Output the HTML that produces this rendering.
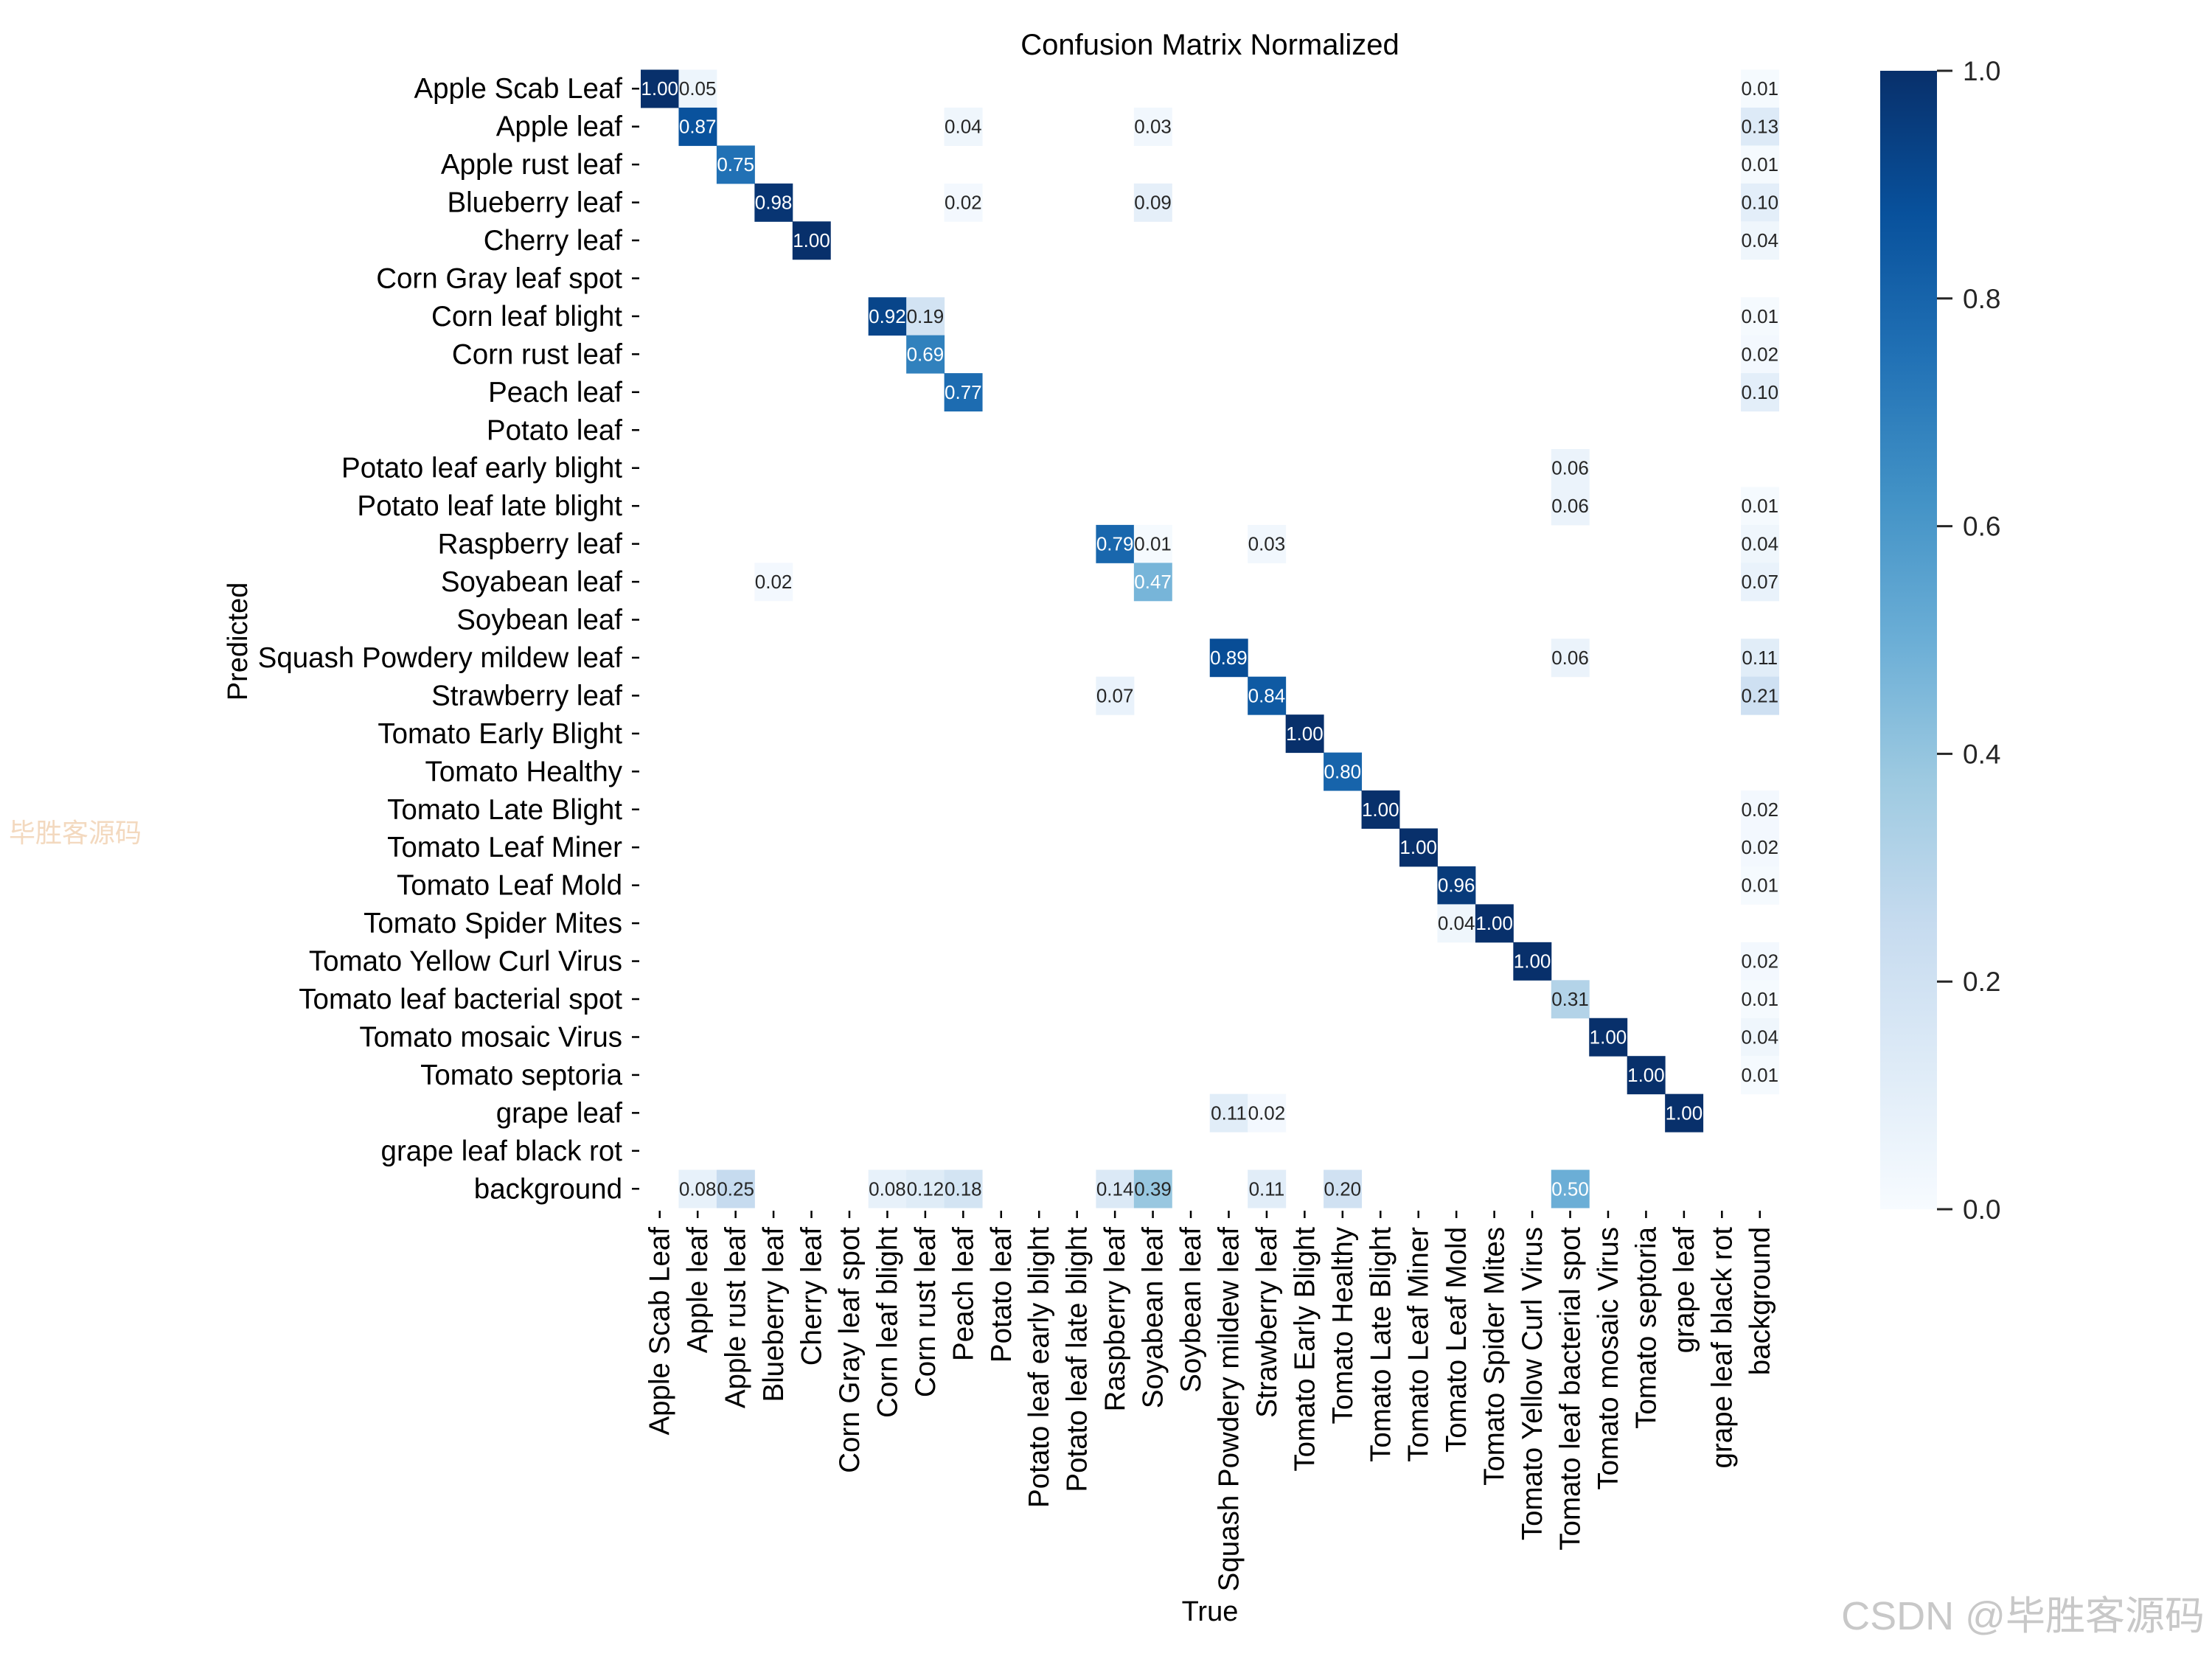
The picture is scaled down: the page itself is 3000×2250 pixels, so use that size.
<!DOCTYPE html>
<html><head><meta charset="utf-8"><style>
html,body{margin:0;padding:0;background:#fff;}
svg{display:block;font-family:"Liberation Sans","Noto Sans CJK SC",sans-serif;}
</style></head><body>
<svg id="chart" width="3000" height="2250" viewBox="0 0 3000 2250" xmlns="http://www.w3.org/2000/svg">
<defs>
<linearGradient id="blues" x1="0" y1="1" x2="0" y2="0">
<stop offset="0" stop-color="#f7fbff"/><stop offset="0.125" stop-color="#deebf7"/><stop offset="0.25" stop-color="#c6dbef"/><stop offset="0.375" stop-color="#9ecae1"/><stop offset="0.5" stop-color="#6baed6"/><stop offset="0.625" stop-color="#4292c6"/><stop offset="0.75" stop-color="#2171b5"/><stop offset="0.875" stop-color="#08519c"/><stop offset="1" stop-color="#08306b"/>
</linearGradient>
</defs>
<text x="1641" y="74" font-size="40" text-anchor="middle" fill="#000">Confusion Matrix Normalized</text>
<g id="cells"></g>
<g id="yticks"></g>
<g id="xticks"></g>
<text x="1641" y="2198" font-size="38" text-anchor="middle" fill="#000">True</text>
<text transform="translate(335,870) rotate(-90)" font-size="38" text-anchor="middle" fill="#000">Predicted</text>
<rect x="2550" y="96" width="77" height="1544" fill="url(#blues)"/>
<g id="cbticks"></g>
<text x="12" y="1142" font-size="36" fill="#f3d9bf">毕胜客源码</text>
<text x="2990" y="2210" font-size="54" text-anchor="end" fill="#c8c8c8">CSDN @毕胜客源码</text>
</svg>
<script>
const classes = ["Apple Scab Leaf","Apple leaf","Apple rust leaf","Blueberry leaf","Cherry leaf","Corn Gray leaf spot","Corn leaf blight","Corn rust leaf","Peach leaf","Potato leaf","Potato leaf early blight","Potato leaf late blight","Raspberry leaf","Soyabean leaf","Soybean leaf","Squash Powdery mildew leaf","Strawberry leaf","Tomato Early Blight","Tomato Healthy","Tomato Late Blight","Tomato Leaf Miner","Tomato Leaf Mold","Tomato Spider Mites","Tomato Yellow Curl Virus","Tomato leaf bacterial spot","Tomato mosaic Virus","Tomato septoria","grape leaf","grape leaf black rot","background"];
const cellRows = [0,0,0, 1,1,1,1, 2,2, 3,3,3,3, 4,4, 6,6,6, 7,7, 8,8, 10, 11,11, 12,12,12,12, 13,13,13, 15,15,15, 16,16,16, 17, 18, 19,19, 20,20, 21,21, 22,22, 23,23, 24,24, 25,25, 26,26, 27,27,27, 29,29,29,29,29,29,29,29,29,29];
const cellCols = [0,1,29, 1,8,13,29, 2,29, 3,8,13,29, 4,29, 6,7,29, 7,29, 8,29, 24, 24,29, 12,13,16,29, 3,13,29, 15,24,29, 12,16,29, 17, 18, 19,29, 20,29, 21,29, 21,22, 23,29, 24,29, 25,29, 26,29, 15,16,27, 1,2,6,7,8,12,13,16,18,24];
const cellValues = [1.00,0.05,0.01, 0.87,0.04,0.03,0.13, 0.75,0.01, 0.98,0.02,0.09,0.10, 1.00,0.04, 0.92,0.19,0.01, 0.69,0.02, 0.77,0.10, 0.06, 0.06,0.01, 0.79,0.01,0.03,0.04, 0.02,0.47,0.07, 0.89,0.06,0.11, 0.07,0.84,0.21, 1.00, 0.80, 1.00,0.02, 1.00,0.02, 0.96,0.01, 0.04,1.00, 1.00,0.02, 0.31,0.01, 1.00,0.04, 1.00,0.01, 0.11,0.02,1.00, 0.08,0.25,0.08,0.12,0.18,0.14,0.39,0.11,0.20,0.50];
const cbTicks = [0.0,0.2,0.4,0.6,0.8,1.0];

const NS="http://www.w3.org/2000/svg";
const gx0=869, gy0=94.5, cw=51.45;
const xPos=i=>gx0+i*cw, yPos=i=>gy0+i*cw;
const cbTop=96, cbBot=1640;
const cbY=v=>cbBot-v*(cbBot-cbTop);
const stops=[[0,[247,251,255]],[0.125,[222,235,247]],[0.25,[198,219,239]],[0.375,[158,202,225]],[0.5,[107,174,214]],[0.625,[66,146,198]],[0.75,[33,113,181]],[0.875,[8,81,156]],[1,[8,48,107]]];
function blues(v){v=Math.max(0,Math.min(1,v));for(let i=1;i<stops.length;i++){if(v<=stops[i][0]){const a=stops[i-1],b=stops[i],t=(v-a[0])/(b[0]-a[0]);const c=a[1].map((x,k)=>Math.round(x+(b[1][k]-x)*t));return `rgb(${c})`;}}return "rgb(8,48,107)";}
function mk(tag,attrs,parent){const e=document.createElementNS(NS,tag);for(const k in attrs)e.setAttribute(k,attrs[k]);parent.appendChild(e);return e;}

const cg=document.getElementById('cells');
cellValues.forEach((v,i)=>{
  const x=xPos(cellCols[i]), y=yPos(cellRows[i]);
  const r=mk('rect',{x:x,y:y,width:cw+0.5,height:cw+0.5,fill:blues(v)},cg);
  
  
  const t=mk('text',{x:x+cw/2,y:y+cw/2+9,'font-size':26,'text-anchor':'middle',fill:v>=0.45?'#fff':'#262626'},cg);
  
  
  t.textContent=v.toFixed(2);
});
const yg=document.getElementById('yticks'), xg=document.getElementById('xticks');
classes.forEach((c,i)=>{
  const yc=yPos(i)+cw/2;
  mk('line',{x1:gx0-12,x2:gx0-2,y1:yc,y2:yc,stroke:'#000','stroke-width':2.5},yg);
  const t=mk('text',{x:gx0-25,y:yc+13,'font-size':38.5,'text-anchor':'end',fill:'#000'},yg);
  
  
  t.textContent=c;
  const xc=xPos(i)+cw/2, yb=yPos(30);
  mk('line',{x1:xc,x2:xc,y1:yb+4,y2:yb+14,stroke:'#000','stroke-width':2.5},xg);
  const u=mk('text',{transform:`translate(${xc+13},${yb+26}) rotate(-90)`,'font-size':38.5,'text-anchor':'end',fill:'#000'},xg);
  
  
  u.textContent=c;
});
const cb=document.getElementById('cbticks');
cbTicks.forEach(v=>{
  const y=cbY(v);
  mk('line',{x1:2627,x2:2648,y1:y,y2:y,stroke:'#262626','stroke-width':3},cb);
  const t=mk('text',{x:2662,y:y+13,'font-size':37,fill:'#262626'},cb);
  
  
  t.textContent=v.toFixed(1);
});
</script>
</body></html>
